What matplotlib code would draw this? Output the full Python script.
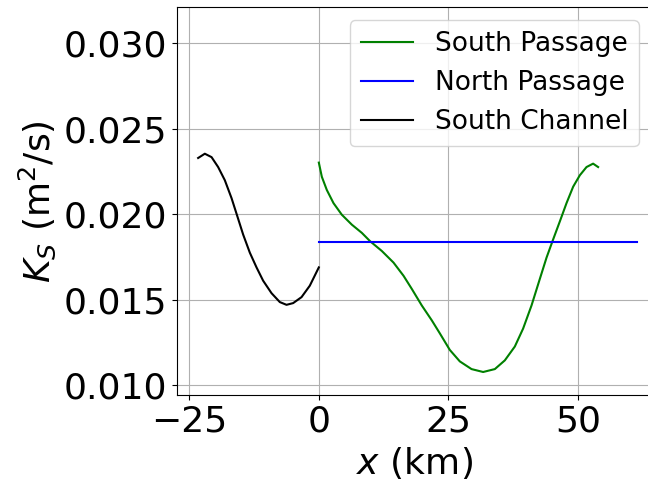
import matplotlib

matplotlib.use("Agg")
import matplotlib.pyplot as plt

# South Channel (x < 0)
sc_x = [-23.30, -22.01, -20.71, -19.44, -18.15, -16.85, -15.89, -14.61,
        -13.32, -12.03, -10.75, -9.13, -7.53, -6.24, -4.96, -3.34, -1.74, 0.0]
sc_k = [0.02328, 0.02353, 0.02333, 0.02275, 0.02198, 0.02093, 0.02002,
        0.01880, 0.01774, 0.01688, 0.01610, 0.01537, 0.01485, 0.01469,
        0.01479, 0.01514, 0.01581, 0.01688]

# South Passage
sp_x = [0.0, 0.58, 1.54, 2.83, 4.44, 6.37, 8.30, 9.90, 12.16, 14.42, 16.35,
        17.95, 19.88, 21.81, 23.36, 25.29, 27.22, 29.48, 31.72, 33.98, 35.91,
        37.84, 39.44, 41.06, 42.66, 43.96, 45.23, 46.53, 47.82, 49.10, 50.39,
        51.68, 52.95, 53.92]
sp_k = [0.02301, 0.02218, 0.02141, 0.02064, 0.01996, 0.01938, 0.01890,
        0.01841, 0.01784, 0.01716, 0.01639, 0.01562, 0.01465, 0.01378,
        0.01302, 0.01205, 0.01138, 0.01093, 0.01076, 0.01093, 0.01144,
        0.01225, 0.01330, 0.01465, 0.01620, 0.01745, 0.01851, 0.01957,
        0.02064, 0.02160, 0.02227, 0.02275, 0.02295, 0.02275]

# North Passage (constant)
np_x = [0.0, 61.4]
np_k = [0.01838, 0.01838]

fig = plt.figure(figsize=(6.48, 4.82), dpi=100)
ax = fig.add_subplot(111)
fig.subplots_adjust(left=0.273, right=1.006, top=0.985, bottom=0.18)

ax.plot(sp_x, sp_k, color="green", lw=1.5, label="South Passage")
ax.plot(np_x, np_k, color="blue", lw=1.5, label="North Passage")
ax.plot(sc_x, sc_k, color="black", lw=1.5, label="South Channel")

ax.set_xlim(-27.4, 64.3)
ax.set_ylim(0.0094, 0.0321)
ax.set_xticks([-25, 0, 25, 50])
ax.set_yticks([0.010, 0.015, 0.020, 0.025, 0.030])
ax.set_yticklabels(["0.010", "0.015", "0.020", "0.025", "0.030"])
ax.tick_params(labelsize=26)
ax.grid(True)
ax.set_xlabel("$x$ (km)", fontsize=26)
ax.set_ylabel("$K_S$ (m$^2$/s)", fontsize=26)
ax.legend(fontsize=19, loc="upper right")

plt.savefig("out.png")
